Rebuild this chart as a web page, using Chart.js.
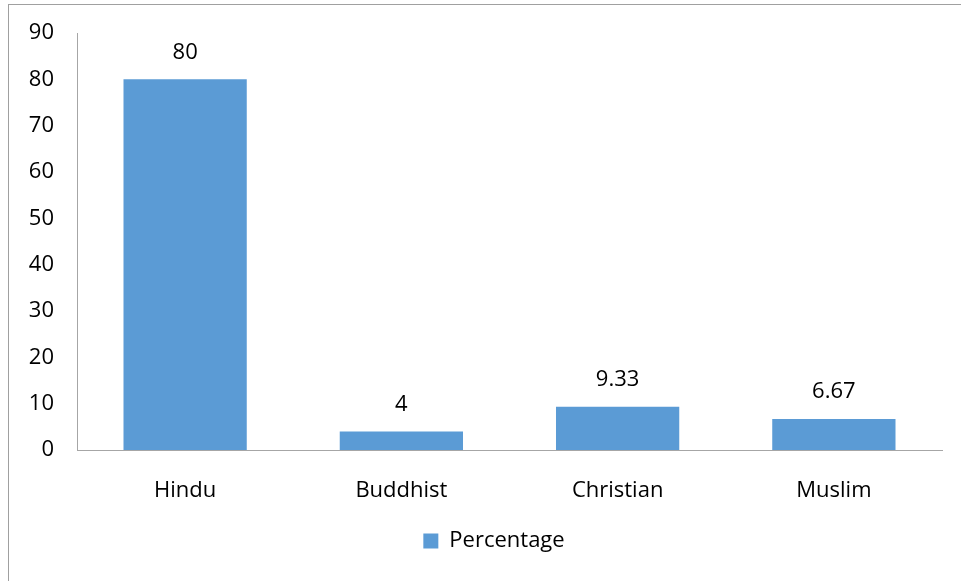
<!DOCTYPE html>
<html>
<head>
<meta charset="utf-8">
<script src="https://cdn.jsdelivr.net/npm/chart.js@4/dist/chart.umd.min.js"></script>
<style>
html,body{margin:0;padding:0;background:#fff;}
#wrap{width:961px;height:581px;position:relative;}
</style>
</head>
<body>
<div id="wrap"><canvas id="c" width="961" height="581"></canvas></div>
<script>
const categories = ["Hindu", "Buddhist", "Christian", "Muslim"];
const seriesName = "Percentage";
const percentages = [80, 4, 9.33, 6.67];
const yTicks = [0, 10, 20, 30, 40, 50, 60, 70, 80, 90];

const FONT = "'Open Sans', 'Noto Sans', sans-serif";
const BAR = "#5b9bd5";
const AXIS = "#a6a6a6";

const framePlugin = {
  id: 'frame',
  beforeDraw(chart) {
    const ctx = chart.ctx;
    ctx.save();
    ctx.fillStyle = '#fff';
    ctx.fillRect(0, 0, chart.width, chart.height);
    ctx.strokeStyle = '#a0a0a0';
    ctx.lineWidth = 1;
    ctx.strokeRect(8.5, 4.5, chart.width + 10, chart.height + 10);
    ctx.restore();
  }
};

const legendShift = {
  id: 'legendShift',
  afterLayout(chart) {
    if (chart.legend) { chart.legend.left += 46; }
  }
};

const labelPlugin = {
  id: 'valueLabels',
  afterDatasetsDraw(chart) {
    const ctx = chart.ctx;
    const meta = chart.getDatasetMeta(0);
    ctx.save();
    ctx.font = "22px " + FONT;
    ctx.fillStyle = '#000';
    ctx.textAlign = 'center';
    ctx.textBaseline = 'middle';
    meta.data.forEach((bar, i) => {
      ctx.fillText(String(percentages[i]), bar.x, bar.y - 27);
    });
    ctx.restore();
  }
};

new Chart(document.getElementById('c'), {
  type: 'bar',
  data: {
    labels: categories,
    datasets: [{
      label: seriesName,
      data: percentages,
      backgroundColor: BAR,
      borderWidth: 0,
      categoryPercentage: 0.57,
      barPercentage: 1.0
    }]
  },
  options: {
    responsive: false,
    animation: false,
    devicePixelRatio: 1,
    layout: { padding: { left: 0, right: 19, top: 33, bottom: 19 } },
    plugins: {
      legend: {
        display: true,
        position: 'bottom',
        labels: {
          boxWidth: 15, boxHeight: 15, padding: 10,
          color: '#000',
          font: { family: FONT, size: 22 }
        }
      },
      tooltip: { enabled: false }
    },
    scales: {
      x: {
        grid: { display: false },
        border: { display: true, color: AXIS, width: 1 },
        ticks: { color: '#000', font: { family: FONT, size: 22 }, padding: 20, maxRotation: 0 },
        afterFit(scale) { scale.height = 70; }
      },
      y: {
        min: 0, max: 90,
        grid: { display: false },
        border: { display: true, color: AXIS, width: 1 },
        afterBuildTicks(scale) { scale.ticks = yTicks.map(v => ({ value: v })); },
        ticks: { color: '#000', font: { family: FONT, size: 22 }, padding: 15 },
        afterFit(scale) { scale.width = 77; }
      }
    }
  },
  plugins: [framePlugin, legendShift, labelPlugin]
});
</script>
</body>
</html>
